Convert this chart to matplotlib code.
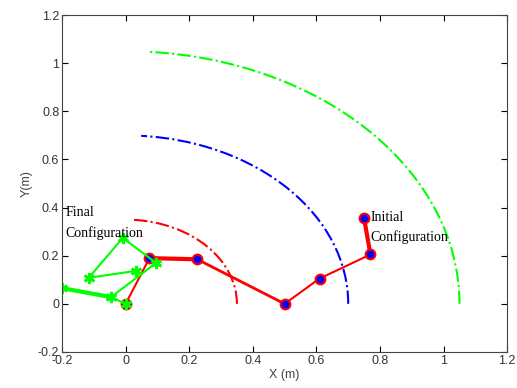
import matplotlib
matplotlib.use('Agg')
import matplotlib.pyplot as plt
from matplotlib.patches import Arc

# workspace arcs (radius of reach, m)
radii = [0.35, 0.7, 1.05]
arc_colors = ['red', 'blue', (0, 1, 0)]
arc_end_deg = 86

# initial configuration (red links, blue joints)
init_x = [0.0, 0.075, 0.225, 0.5, 0.61, 0.77, 0.75]
init_y = [0.0, 0.19, 0.185, 0.0, 0.105, 0.205, 0.355]
init_lw = [1.5, 3, 2, 1.5, 1.5, 3]

# final configuration (green links)
fin_x = [0.0, -0.046, -0.2]
fin_y = [0.0, 0.028, 0.065]
fin2_x = [-0.046, 0.096, -0.009, -0.116, 0.033]
fin2_y = [0.028, 0.17, 0.274, 0.108, 0.137]

green = (0, 1, 0)

fig = plt.figure(figsize=(5.17, 3.88), dpi=100)
ax = fig.add_axes([0.12, 0.093, 0.861, 0.868])

for r, c in zip(radii, arc_colors):
    ax.add_patch(Arc((0, 0), 2 * r, 2 * r, theta1=0, theta2=arc_end_deg,
                     color=c, lw=1.5, ls='-.'))

# red chain, segment by segment
for i in range(len(init_x) - 1):
    ax.plot(init_x[i:i + 2], init_y[i:i + 2], color='red', lw=init_lw[i])
ax.plot(init_x, init_y, 'o', ms=7, mfc='blue', mec='red', mew=1.5, ls='none')

# green chain
ax.plot(fin_x[:2], fin_y[:2], color=green, lw=1.5)
ax.plot(fin_x[1:], fin_y[1:], color=green, lw=3)
ax.plot(fin2_x, fin2_y, color=green, lw=1.5)
ax.plot(fin_x + fin2_x, fin_y + fin2_y, ls='none', marker=(6, 2, 0),
        ms=8, mec=green, mew=2)

ax.text(-0.19, 0.405, 'Final\nConfiguration', family='Liberation Serif',
        fontsize=10, va='top', ha='left', linespacing=1.6)
ax.text(0.77, 0.385, 'Initial\nConfiguration', family='Liberation Serif',
        fontsize=10, va='top', ha='left', linespacing=1.6)

ax.set_xlim(-0.2, 1.2)
ax.set_ylim(-0.2, 1.2)
ax.set_xticks([-0.2, 0, 0.2, 0.4, 0.6, 0.8, 1, 1.2])
ax.set_yticks([-0.2, 0, 0.2, 0.4, 0.6, 0.8, 1, 1.2])
ax.set_xticklabels(['-0.2', '0', '0.2', '0.4', '0.6', '0.8', '1', '1.2'])
ax.set_yticklabels(['-0.2', '0', '0.2', '0.4', '0.6', '0.8', '1', '1.2'])
ax.tick_params(direction='in', top=True, right=True, length=4,
               labelsize=9, labelcolor='#333333', pad=2)
for lab in ax.get_xticklabels() + ax.get_yticklabels():
    lab.set_family('Liberation Sans')
for s in ax.spines.values():
    s.set_color('#444444')
ax.set_xlabel('X (m)', family='Liberation Sans', fontsize=9, color='#444444', labelpad=2)
ax.set_ylabel('Y(m)', family='Liberation Sans', fontsize=9, color='#444444', labelpad=4)

fig.savefig('out.png', dpi=100)
